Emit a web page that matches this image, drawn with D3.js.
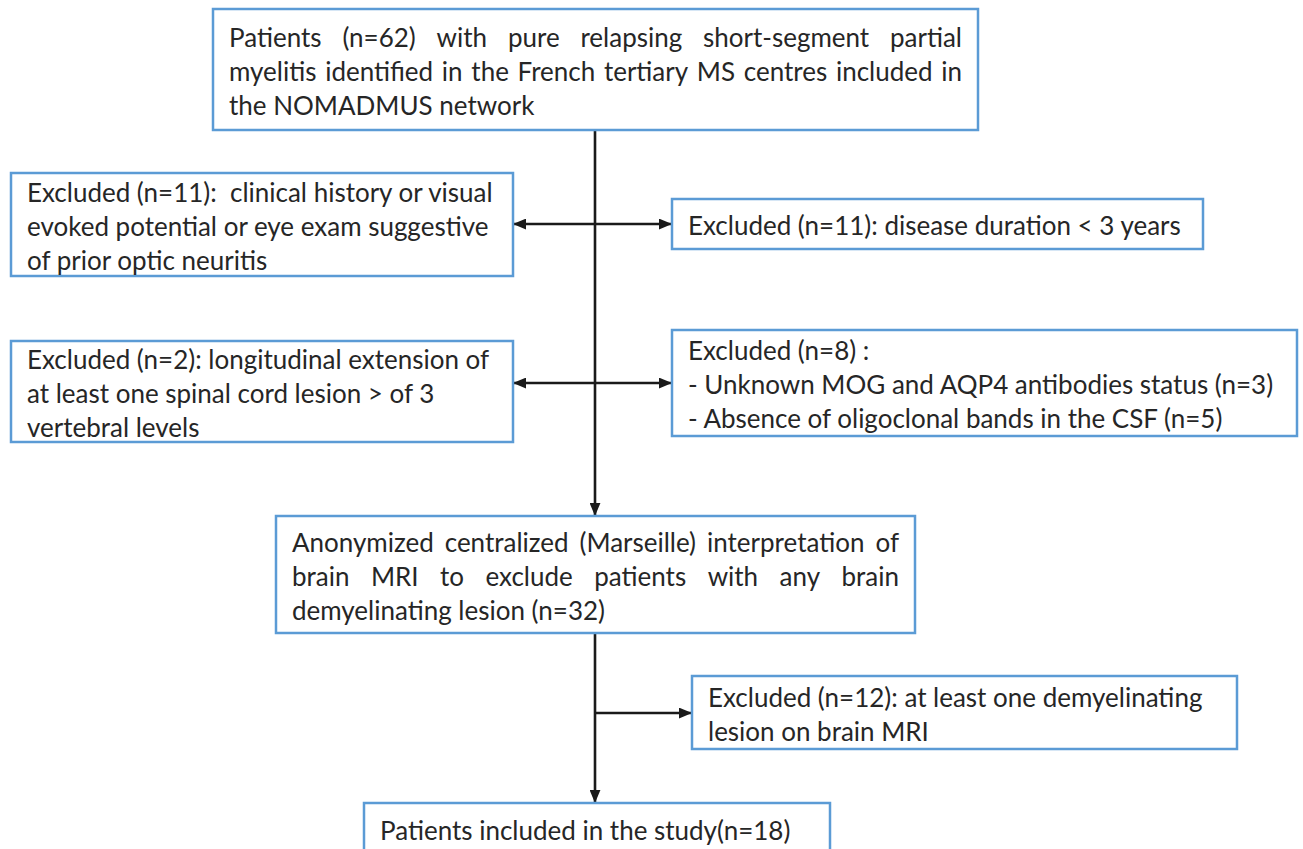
<!DOCTYPE html>
<html>
<head>
<meta charset="utf-8">
<script src="https://cdn.jsdelivr.net/npm/d3@7"></script>
<style>
  html, body { margin: 0; padding: 0; background: #ffffff; }
  svg { display: block; }
  text { white-space: pre; }
</style>
</head>
<body>
<svg id="chart" width="1303" height="849"></svg>
<script>
// ---------- DATA ----------
const boxIds = ["start", "exclOptic", "exclDuration", "exclLongitudinal", "exclAntibodies", "mri", "exclBrain", "included"];
const boxLines = [
  ["Patients (n=62) with pure relapsing short-segment partial",
   "myelitis identified in the French tertiary MS centres included in",
   "the NOMADMUS network"],
  ["Excluded (n=11):  clinical history or visual",
   "evoked potential or eye exam suggestive",
   "of prior optic neuritis"],
  ["Excluded (n=11): disease duration < 3 years"],
  ["Excluded (n=2): longitudinal extension of",
   "at least one spinal cord lesion > of 3",
   "vertebral levels"],
  ["Excluded (n=8) :",
   "- Unknown MOG and AQP4 antibodies status (n=3)",
   "- Absence of oligoclonal bands in the CSF (n=5)"],
  ["Anonymized centralized (Marseille) interpretation of",
   "brain MRI to exclude patients with any brain",
   "demyelinating lesion (n=32)"],
  ["Excluded (n=12): at least one demyelinating",
   "lesion on brain MRI"],
  ["Patients included in the study(n=18)"]
];
// number of leading lines per box that are justified
const justifiedLines = [2, 0, 0, 0, 0, 2, 0, 0];

// ---------- LAYOUT (pixel geometry, kept apart from data) ----------
const layout = {
  start:            {x: 213, y: 9,   w: 765, h: 121},
  exclOptic:        {x: 11,  y: 173, w: 502, h: 103},
  exclDuration:     {x: 672, y: 199, w: 531, h: 50},
  exclLongitudinal: {x: 11,  y: 341, w: 502, h: 101},
  exclAntibodies:   {x: 672, y: 330, w: 625, h: 106},
  mri:              {x: 276, y: 516, w: 639, h: 117},
  exclBrain:        {x: 692, y: 676, w: 545, h: 73},
  included:         {x: 364, y: 803, w: 466, h: 60}
};
const padX = 16, lineH = 34, baseOff = 11;
const spineX = 595;
const borderColor = "#5b9bd5";
const textColor = "#262626";
const fontFamily = "Lato, 'Open Sans', sans-serif";

const svg = d3.select("#chart");

// font size calibrated so a reference line matches its width in the figure
const probe = svg.append("text").attr("font-family", fontFamily).attr("font-size", 100)
  .text("Excluded (n=11): disease duration < 3 years");
const probeW = probe.node().getComputedTextLength();
probe.remove();
const fontSize = 100 * 493 / probeW;

// ---------- ARROW MARKERS ----------
const defs = svg.append("defs");
defs.append("marker").attr("id", "arrowEnd")
  .attr("viewBox", "0 0 12 10").attr("refX", 12).attr("refY", 5)
  .attr("markerUnits", "userSpaceOnUse").attr("markerWidth", 13).attr("markerHeight", 11)
  .attr("orient", "auto")
  .append("path").attr("d", "M0,0 L12,5 L0,10 Z").attr("fill", "#1a1a1a");
defs.append("marker").attr("id", "arrowStart")
  .attr("viewBox", "0 0 12 10").attr("refX", 0).attr("refY", 5)
  .attr("markerUnits", "userSpaceOnUse").attr("markerWidth", 13).attr("markerHeight", 11)
  .attr("orient", "auto")
  .append("path").attr("d", "M12,0 L0,5 L12,10 Z").attr("fill", "#1a1a1a");

// ---------- CONNECTORS ----------
const L = id => layout[id];
const connectors = [
  {x1: spineX, y1: L("start").y + L("start").h, x2: spineX, y2: L("mri").y, start: false, end: true},
  {x1: L("exclOptic").x + L("exclOptic").w, y1: 224, x2: L("exclDuration").x, y2: 224, start: true, end: true},
  {x1: L("exclLongitudinal").x + L("exclLongitudinal").w, y1: 383, x2: L("exclAntibodies").x, y2: 383, start: true, end: true},
  {x1: spineX, y1: L("mri").y + L("mri").h, x2: spineX, y2: L("included").y, start: false, end: true},
  {x1: spineX, y1: 713, x2: L("exclBrain").x, y2: 713, start: false, end: true}
];
svg.append("g").selectAll("line").data(connectors).join("line")
  .attr("x1", d => d.x1).attr("y1", d => d.y1)
  .attr("x2", d => d.x2).attr("y2", d => d.y2)
  .attr("stroke", "#1a1a1a").attr("stroke-width", 2.6)
  .attr("marker-start", d => d.start ? "url(#arrowStart)" : null)
  .attr("marker-end", d => d.end ? "url(#arrowEnd)" : null);

// ---------- BOXES ----------
const boxes = boxIds.map((id, i) => ({id, lines: boxLines[i], just: justifiedLines[i], ...layout[id]}));

const g = svg.append("g").selectAll("g.box").data(boxes).join("g").attr("class", "box");
g.append("rect")
  .attr("x", d => d.x).attr("y", d => d.y).attr("width", d => d.w).attr("height", d => d.h)
  .attr("fill", "#ffffff").attr("stroke", borderColor).attr("stroke-width", 2.5);

g.each(function(d) {
  const sel = d3.select(this);
  const n = d.lines.length;
  const cy = d.id === "included" ? 829 : d.y + d.h / 2;
  d.lines.forEach((line, k) => {
    const baseline = cy + (k - (n - 1) / 2) * lineH + baseOff;
    const t = sel.append("text")
      .attr("font-family", fontFamily).attr("font-size", fontSize)
      .attr("fill", textColor).attr("y", baseline);
    if (k < d.just) {
      const words = line.split(" ");
      const widths = words.map(w => {
        const tmp = sel.append("text").attr("font-family", fontFamily).attr("font-size", fontSize).text(w);
        const ww = tmp.node().getComputedTextLength();
        tmp.remove();
        return ww;
      });
      const inner = d.w - 2 * padX;
      const gap = (inner - d3.sum(widths)) / (words.length - 1);
      let x = d.x + padX;
      words.forEach((w, j) => {
        t.append("tspan").attr("x", x).text(w);
        x += widths[j] + gap;
      });
    } else {
      t.attr("x", d.x + padX).text(line);
    }
  });
});
</script>
</body>
</html>
